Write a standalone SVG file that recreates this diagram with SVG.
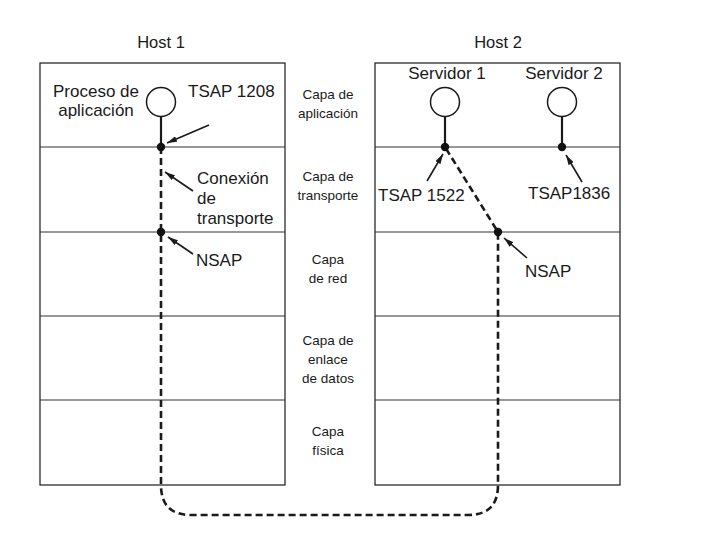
<svg xmlns="http://www.w3.org/2000/svg" width="701" height="538" viewBox="0 0 701 538">
<defs>
<style>
text{font-family:"Liberation Sans",Arial,sans-serif;fill:#1a1a1a}
.lbl{font-size:17px}
.host{font-size:16.5px;text-anchor:middle}
.mid{font-size:13.5px;text-anchor:middle}
.c{text-anchor:middle}
.box{fill:none;stroke:#1a1a1a;stroke-width:1.2}
.sep{stroke:#333;stroke-width:1.2}
.stem{stroke:#1a1a1a;stroke-width:2.2}
.circ{fill:#fff;stroke:#1a1a1a;stroke-width:1.5}
.dot{fill:#111}
.conn{fill:none;stroke:#1a1a1a;stroke-width:2.6;stroke-dasharray:7 4}
.arr{stroke:#1a1a1a;stroke-width:1.6;marker-end:url(#ah)}
</style>
<marker id="ah" viewBox="0 0 10 6" refX="10" refY="3" markerWidth="10" markerHeight="6" markerUnits="userSpaceOnUse" orient="auto">
<path d="M0,0 L10,3 L0,6 Z" fill="#1a1a1a"/>
</marker>
</defs>
<rect width="701" height="538" fill="#fff"/>
<g id="host1">
<text class="host" x="161" y="48">Host 1</text>
<rect class="box" x="40" y="63" width="245" height="422"/>
<line class="sep" x1="40" y1="147" x2="285" y2="147"/>
<line class="sep" x1="40" y1="232" x2="285" y2="232"/>
<line class="sep" x1="40" y1="316" x2="285" y2="316"/>
<line class="sep" x1="40" y1="400" x2="285" y2="400"/>
</g>
<g id="host2">
<text class="host" x="498" y="48">Host 2</text>
<rect class="box" x="375" y="63" width="245" height="422"/>
<line class="sep" x1="375" y1="147" x2="620" y2="147"/>
<line class="sep" x1="375" y1="232" x2="620" y2="232"/>
<line class="sep" x1="375" y1="316" x2="620" y2="316"/>
<line class="sep" x1="375" y1="400" x2="620" y2="400"/>
</g>
<g id="layers">
<text class="mid" x="328" y="99">Capa de</text>
<text class="mid" x="328" y="118">aplicación</text>
<text class="mid" x="328" y="181">Capa de</text>
<text class="mid" x="328" y="200">transporte</text>
<text class="mid" x="328" y="264">Capa</text>
<text class="mid" x="328" y="283">de red</text>
<text class="mid" x="328" y="345">Capa de</text>
<text class="mid" x="328" y="364">enlace</text>
<text class="mid" x="328" y="383">de datos</text>
<text class="mid" x="328" y="436">Capa</text>
<text class="mid" x="328" y="455">física</text>
</g>
<g id="connectors">
<path class="conn" d="M161,147 V485 Q161,515 191,515 H468 Q498,515 498,485 V232 L445,147"/>
<line class="arr" x1="209" y1="125" x2="167" y2="143"/>
<line class="arr" x1="193" y1="191" x2="165" y2="172"/>
<line class="arr" x1="193" y1="254" x2="168" y2="237"/>
<line class="arr" x1="427" y1="181" x2="443" y2="154"/>
<line class="arr" x1="582" y1="182" x2="566" y2="155"/>
<line class="arr" x1="527" y1="258" x2="504" y2="238"/>
</g>
<g id="proceso">
<line class="stem" x1="161" y1="116" x2="161" y2="147"/>
<circle class="circ" cx="161" cy="102" r="14.5"/>
<circle class="dot" cx="161" cy="147" r="4.2"/>
<text class="lbl c" x="96" y="97">Proceso de</text>
<text class="lbl c" x="96" y="116">aplicación</text>
</g>
<g id="tsap1208"><text class="lbl" x="188" y="97">TSAP 1208</text></g>
<g id="conexion">
<text class="lbl" x="197" y="184">Conexión</text>
<text class="lbl" x="197" y="204">de</text>
<text class="lbl" x="197" y="224">transporte</text>
</g>
<g id="nsap1">
<circle class="dot" cx="161" cy="232" r="4.2"/>
<text class="lbl" x="196" y="266">NSAP</text>
</g>
<g id="servidor1">
<line class="stem" x1="445" y1="116" x2="445" y2="147"/>
<circle class="circ" cx="445" cy="102" r="14.5"/>
<circle class="dot" cx="445" cy="147" r="4.2"/>
<text class="lbl c" x="447" y="79">Servidor 1</text>
<text class="lbl" x="378" y="201">TSAP 1522</text>
</g>
<g id="servidor2">
<line class="stem" x1="562" y1="116" x2="562" y2="147"/>
<circle class="circ" cx="562" cy="102" r="14.5"/>
<circle class="dot" cx="562" cy="147" r="4.2"/>
<text class="lbl c" x="564" y="79">Servidor 2</text>
<text class="lbl" x="528" y="199">TSAP1836</text>
</g>
<g id="nsap2">
<circle class="dot" cx="498" cy="232" r="4.2"/>
<text class="lbl" x="525" y="277">NSAP</text>
</g>
</svg>
